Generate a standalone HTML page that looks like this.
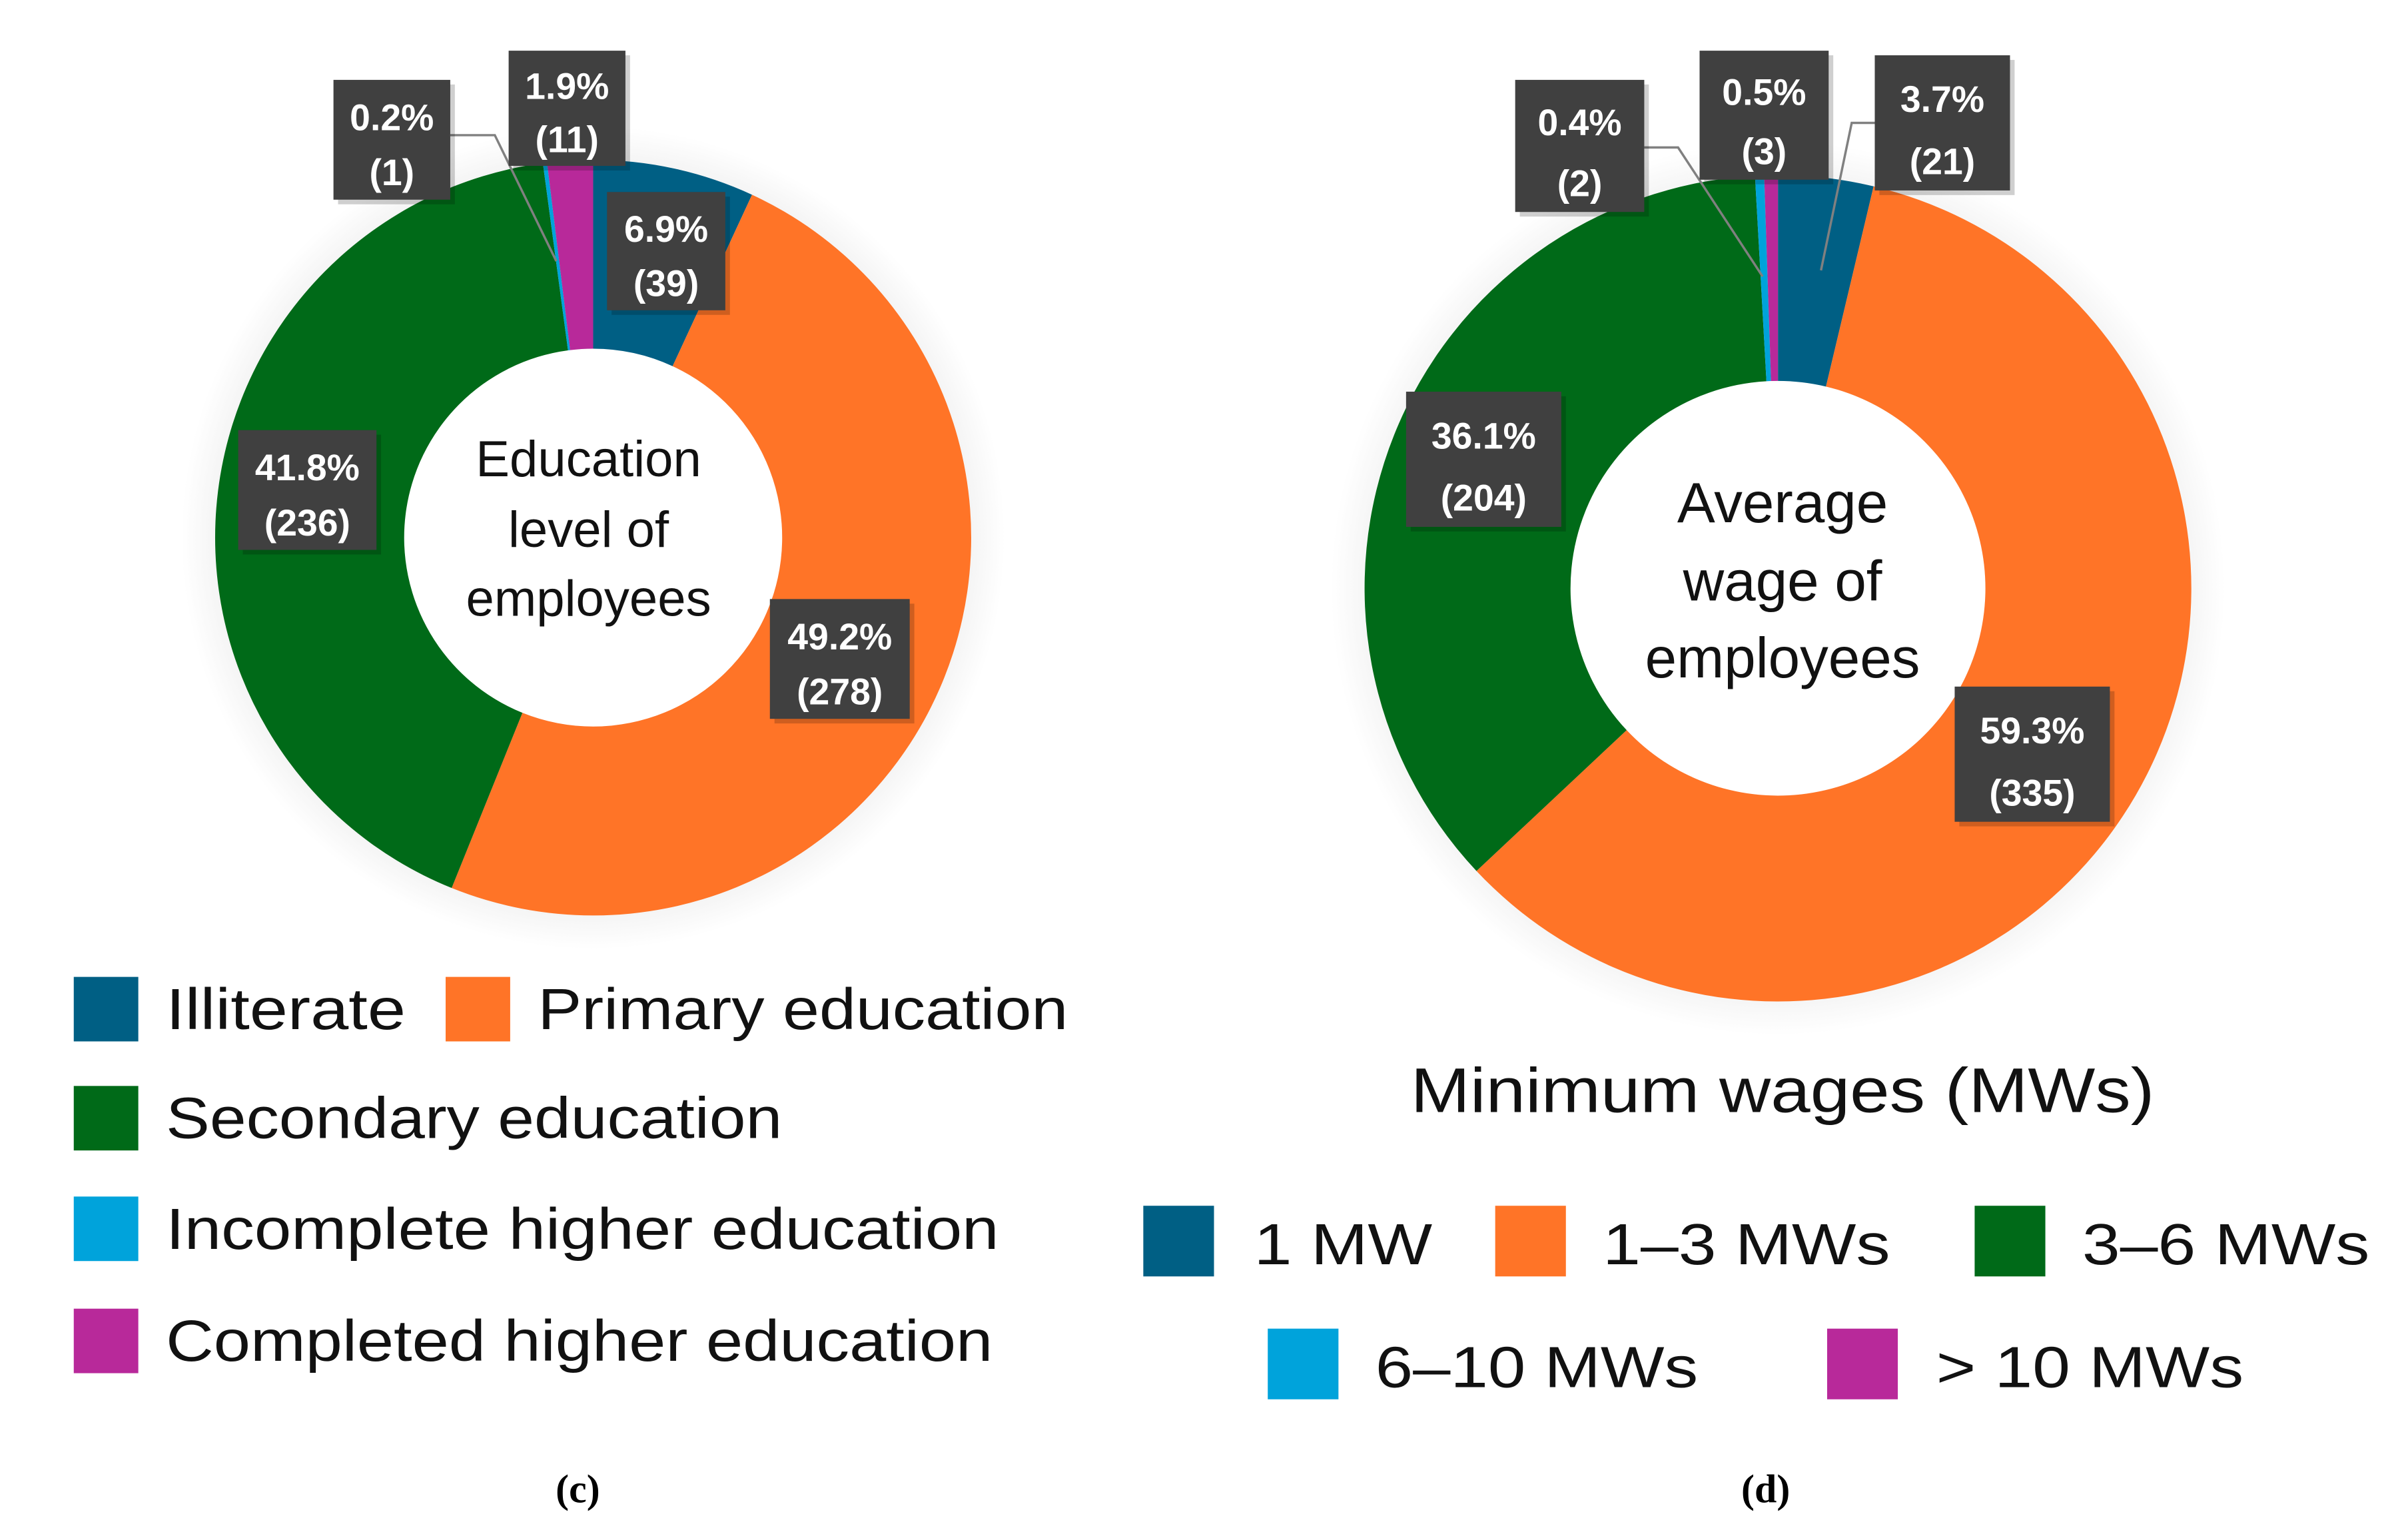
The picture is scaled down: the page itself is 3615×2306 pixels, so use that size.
<!DOCTYPE html>
<html><head><meta charset="utf-8"><style>
html,body{margin:0;padding:0;background:#fff;}
svg{display:block;}
text{font-family:"Liberation Sans",sans-serif;}
.lbl{font-weight:bold;fill:#fff;font-size:24px;text-anchor:middle;}
.leg{font-size:38px;fill:#111;}
</style></head><body>
<svg id="chart" width="3615" height="2306" viewBox="0 0 1567 1000" preserveAspectRatio="none" xmlns="http://www.w3.org/2000/svg">
<defs>
<radialGradient id="glow"><stop offset="0.85" stop-color="#ececec"/><stop offset="1" stop-color="#fff"/></radialGradient>
</defs>
<g id="left"></g>
<g id="right"></g>
<g id="legends"></g>
<text x="376" y="978" text-anchor="middle" style="font-family:'Liberation Serif',serif;font-weight:bold;font-size:26px">(c)</text>
<text x="1149" y="978" text-anchor="middle" style="font-family:'Liberation Serif',serif;font-weight:bold;font-size:26px">(d)</text>
</svg>
<script>
const eduCategories = ["Illiterate","Primary education","Secondary education","Incomplete higher education","Completed higher education"];
const eduValues = [39, 278, 236, 1, 11];
const eduPercents = ["6.9%","49.2%","41.8%","0.2%","1.9%"];
const wageCategories = ["1 MW","1–3 MWs","3–6 MWs","6–10 MWs","> 10 MWs"];
const wageValues = [21, 335, 204, 2, 3];
const wagePercents = ["3.7%","59.3%","36.1%","0.4%","0.5%"];
const colors = ["#005f84","#ff7427","#006a18","#00a3db","#b8299a"];

const NS="http://www.w3.org/2000/svg";
function mk(tag, attrs, parent){const e=document.createElementNS(NS,tag);for(const k in attrs)e.setAttribute(k,attrs[k]);parent.appendChild(e);return e;}
function pt(cx,cy,r,a){return [cx+r*Math.sin(a), cy-r*Math.cos(a)];}
function arc(cx,cy,r0,r1,a0,a1){
  const p0=pt(cx,cy,r1,a0),p1=pt(cx,cy,r1,a1),p2=pt(cx,cy,r0,a1),p3=pt(cx,cy,r0,a0);
  const lg=(a1-a0)>Math.PI?1:0;
  return `M${p0[0]},${p0[1]}A${r1},${r1} 0 ${lg} 1 ${p1[0]},${p1[1]}L${p2[0]},${p2[1]}A${r0},${r0} 0 ${lg} 0 ${p3[0]},${p3[1]}Z`;
}
function donut(g, values, cx, cy, r0, r1, names){
  mk('circle',{cx:cx,cy:cy,r:r1+22,fill:'url(#glow)'},g);
  mk('circle',{cx:cx,cy:cy,r:r0,fill:'#fff'},g);
  const tot=values.reduce((a,b)=>a+b,0);
  let a=0;
  values.forEach((v,i)=>{
    const a1=a+v/tot*2*Math.PI;
    const p=mk('path',{d:arc(cx,cy,r0,r1,a,a1),fill:colors[i]},g);
    
    
    a=a1;
  });
}
function label(g, x, y, w, h, pct, cnt, name){
  const grp=mk('g',{},g);
  
  
  mk('rect',{x:x+3,y:y+3,width:w,height:h,fill:'#00000030'},grp);
  mk('rect',{x:x,y:y,width:w,height:h,fill:'#404040'},grp);
  const t1=mk('text',{x:x+w/2,y:y+h*0.42,class:'lbl'},grp);t1.textContent=pct;
  const t2=mk('text',{x:x+w/2,y:y+h*0.88,class:'lbl'},grp);t2.textContent='('+cnt+')';
}
function centerText(g,cx,ys,lines,size){
  lines.forEach((l,i)=>{const t=mk('text',{x:cx,y:ys[i],'text-anchor':'middle','font-size':size,fill:'#111'},g);t.textContent=l;
  
  });
}
const L=document.getElementById('left'), R=document.getElementById('right'), G=document.getElementById('legends');
donut(L, eduValues, 386, 350, 123, 246, eduCategories);
donut(R, wageValues, 1157, 383, 135, 269, wageCategories);
centerText(L,383,[310,356,401],["Education","level of","employees"],33);
centerText(R,1160,[340,391,441],["Average","wage of","employees"],37);
mk('polyline',{points:'293,88 322,88 362,170',fill:'none',stroke:'#808080','stroke-width':1.5},L);
mk('polyline',{points:'1070,96 1092,96 1147,180',fill:'none',stroke:'#808080','stroke-width':1.5},R);
mk('polyline',{points:'1220,80 1205,80 1185,176',fill:'none',stroke:'#808080','stroke-width':1.5},R);
label(L,217,52,76,78,eduPercents[3],eduValues[3],'label-incomplete-higher');
label(L,331,33,76,75,eduPercents[4],eduValues[4],'label-completed-higher');
label(L,395,125,77,77,eduPercents[0],eduValues[0],'label-illiterate');
label(L,155,280,90,78,eduPercents[2],eduValues[2],'label-secondary');
label(L,501,390,91,78,eduPercents[1],eduValues[1],'label-primary');
label(R,986,52,84,86,wagePercents[3],wageValues[3],'label-6-10-mw');
label(R,1106,33,84,84,wagePercents[4],wageValues[4],'label-over-10-mw');
label(R,1220,36,88,88,wagePercents[0],wageValues[0],'label-1-mw');
label(R,915,255,101,88,wagePercents[2],wageValues[2],'label-3-6-mw');
label(R,1272,447,101,88,wagePercents[1],wageValues[1],'label-1-3-mw');
const eduLeg=[[48,657,108,0,156],[290,657,350,1,345],[48,728,108,2,401],[48,800,108,3,542],[48,873,108,4,538]];
eduLeg.forEach(([sx,cy,tx,i,tl])=>{
  const g=mk('g',{},G);
  
  
  mk('rect',{x:sx,y:cy-21,width:42,height:42,fill:colors[i]},g);
  const t=mk('text',{x:tx,y:cy+13,class:'leg',textLength:tl,lengthAdjust:'spacingAndGlyphs'},g);t.textContent=eduCategories[i];
});
const tt=mk('text',{x:918,y:724,'font-size':41,fill:'#111',textLength:484,lengthAdjust:'spacingAndGlyphs'},G);
tt.textContent='Minimum wages (MWs)';


const wLeg=[[744,808,816,0,116],[973,808,1043,1,187],[1285,808,1355,2,187],[825,888,895,3,210],[1189,888,1260,4,200]];
wLeg.forEach(([sx,cy,tx,i,tl])=>{
  const g=mk('g',{},G);
  
  
  mk('rect',{x:sx,y:cy-23,width:46,height:46,fill:colors[i]},g);
  const t=mk('text',{x:tx,y:cy+15,class:'leg','font-size':42,textLength:tl,lengthAdjust:'spacingAndGlyphs'},g);t.textContent=wageCategories[i];
});
</script>
</body></html>
